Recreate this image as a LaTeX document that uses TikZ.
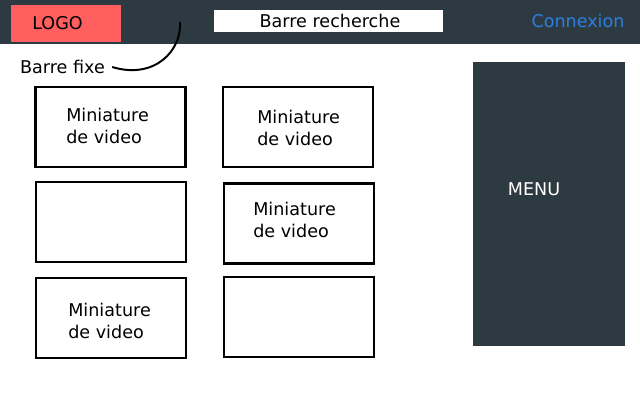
\documentclass[tikz,border=0pt]{standalone}
\usepackage{fontspec}
\setmainfont{DejaVu Sans}
\usepackage{tikz}
\usetikzlibrary{positioning, calc}
\definecolor{barcol}{RGB}{46,58,65}
\definecolor{logocol}{RGB}{255,95,95}
\definecolor{linkcol}{RGB}{42,127,224}
\tikzset{
    txt/.style={inner sep=0pt, font=\fontsize{12.5}{15.8}\selectfont},
    thumb/.style={draw, line width=1.6pt, minimum width=3.75cm, minimum height=2cm, inner sep=0pt},
    thumbtxt/.style={txt, align=left, anchor=west},
    callout/.style={line width=1.4pt},
}

\begin{document}
\begin{tikzpicture}[x=0.025cm, y=-0.025cm]
    \useasboundingbox (0,0) rectangle (640,400);

    % barre du haut
    \fill[barcol] (0,0) rectangle (640,44);
    \node[fill=logocol, minimum width=2.75cm, minimum height=0.925cm, inner sep=0pt] (logo) at (66,23.5) {};
    \node[txt] (logotxt) at (57.5,23) {LOGO};
    \node[fill=white, minimum width=5.725cm, minimum height=0.55cm, inner sep=0pt] (search) at (328.5,21) {};
    \node[txt] (searchtxt) at (330,21) {Barre recherche};
    \node[txt, text=linkcol] (login) at (578,21) {Connexion};

    \node[txt] (fixe) at (62.5,67) {Barre fixe};
    \coordinate (fixtip) at (180,22);
    \draw[callout] ([xshift=5pt]fixe.east) .. controls (155,80) and (182,50) .. (fixtip);

    % menu
    \node[fill=barcol, minimum width=3.8cm, minimum height=7.1cm, inner sep=0pt] (menu) at (549,204) {};
    \node[txt, text=white] (menutxt) at (534,189) {MENU};

    % miniatures
    \node[thumb] (v1) at (110.5,127) {};
    \node[thumb] (v2) at (298,127) {};
    \node[thumb] (v3) at (111,222) {};
    \node[thumb] (v4) at (299,223.5) {};
    \node[thumb] (v5) at (111,318) {};
    \node[thumb] (v6) at (299,317) {};

    \node[thumbtxt] (t1) at (66,126) {Miniature\\de video};
    \node[thumbtxt] (t2) at (257,128) {Miniature\\de video};
    \node[thumbtxt] (t4) at (253,220) {Miniature\\de video};
    \node[thumbtxt] (t5) at (68,321) {Miniature\\de video};
\end{tikzpicture}
\end{document}
